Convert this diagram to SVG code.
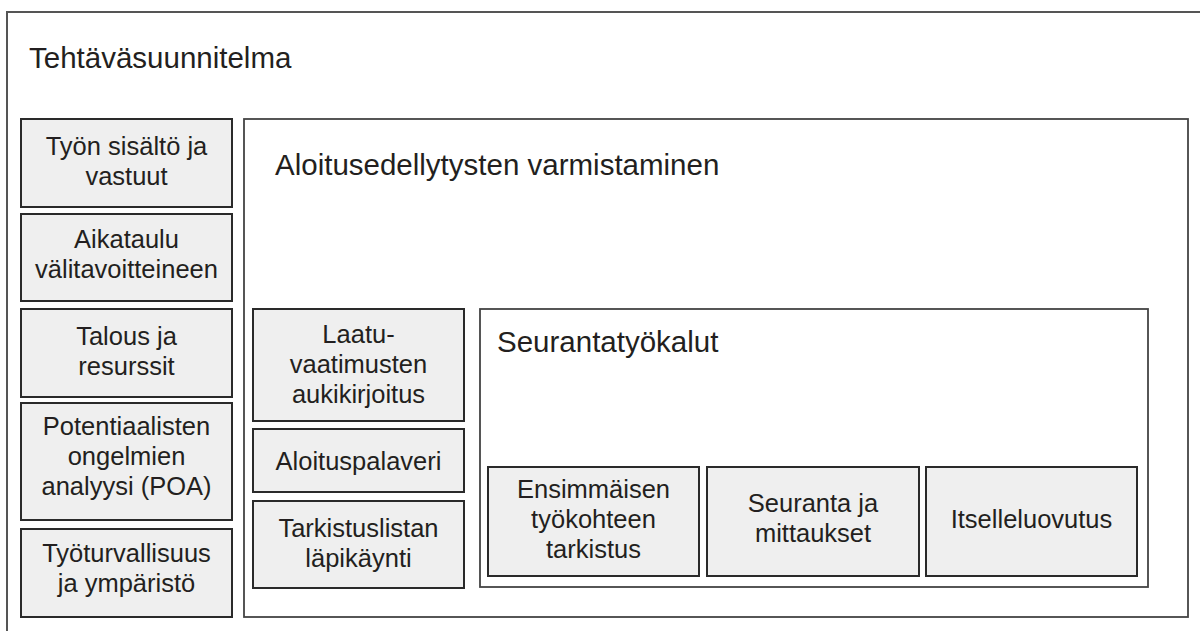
<svg xmlns="http://www.w3.org/2000/svg" width="1200" height="631" viewBox="0 0 1200 631">
<style>
  .frame{fill:none;stroke:#555;stroke-width:2}
  .cont{fill:#fff;stroke:#444;stroke-width:1.8}
  .box{fill:#efefef;stroke:#2a2a2a;stroke-width:2}
  text{font-family:"Liberation Sans",Arial,sans-serif;fill:#231f20}
  .t{font-size:29.5px}
  .b{font-size:25.5px;text-anchor:middle}
</style>
<rect width="1200" height="631" fill="#fff"/>
<g id="outer">
  <path class="frame" d="M7,631 V12 H1200"/>
  <text class="t" x="29" y="68">Tehtäväsuunnitelma</text>
</g>
<g id="aloitus">
  <rect class="cont" x="244" y="119" width="944" height="498"/>
  <text class="t" x="275" y="175">Aloitusedellytysten varmistaminen</text>
</g>
<g id="seuranta-tyokalut">
  <rect class="cont" x="480" y="309" width="668" height="278"/>
  <text class="t" x="497" y="352">Seurantatyökalut</text>
</g>
<g id="tyon-sisalto">
  <rect class="box" x="21" y="119" width="211" height="88"/>
  <text class="b" x="126.5" y="155">Työn sisältö ja</text>
  <text class="b" x="126.5" y="185">vastuut</text>
</g>
<g id="aikataulu">
  <rect class="box" x="21" y="214" width="211" height="87"/>
  <text class="b" x="126.5" y="248">Aikataulu</text>
  <text class="b" x="126.5" y="278">välitavoitteineen</text>
</g>
<g id="talous">
  <rect class="box" x="21" y="309" width="211" height="88"/>
  <text class="b" x="126.5" y="345">Talous ja</text>
  <text class="b" x="126.5" y="375">resurssit</text>
</g>
<g id="poa">
  <rect class="box" x="21" y="403" width="211" height="117"/>
  <text class="b" x="126.5" y="435">Potentiaalisten</text>
  <text class="b" x="126.5" y="465">ongelmien</text>
  <text class="b" x="126.5" y="495">analyysi (POA)</text>
</g>
<g id="tyoturvallisuus">
  <rect class="box" x="21" y="529" width="211" height="88"/>
  <text class="b" x="126.5" y="562">Työturvallisuus</text>
  <text class="b" x="126.5" y="592">ja ympäristö</text>
</g>
<g id="laatu">
  <rect class="box" x="253" y="309" width="211" height="112"/>
  <text class="b" x="358.5" y="343">Laatu-</text>
  <text class="b" x="358.5" y="373">vaatimusten</text>
  <text class="b" x="358.5" y="403">aukikirjoitus</text>
</g>
<g id="aloituspalaveri">
  <rect class="box" x="253" y="429" width="211" height="63"/>
  <text class="b" x="358.5" y="470">Aloituspalaveri</text>
</g>
<g id="tarkistuslista">
  <rect class="box" x="253" y="501" width="211" height="87"/>
  <text class="b" x="358.5" y="537">Tarkistuslistan</text>
  <text class="b" x="358.5" y="567">läpikäynti</text>
</g>
<g id="ensimmainen">
  <rect class="box" x="488" y="467" width="211" height="109"/>
  <text class="b" x="593.5" y="498">Ensimmäisen</text>
  <text class="b" x="593.5" y="528">työkohteen</text>
  <text class="b" x="593.5" y="558">tarkistus</text>
</g>
<g id="seuranta-mittaukset">
  <rect class="box" x="707" y="467" width="212" height="109"/>
  <text class="b" x="813" y="512">Seuranta ja</text>
  <text class="b" x="813" y="542">mittaukset</text>
</g>
<g id="itselleluovutus">
  <rect class="box" x="926" y="467" width="211" height="109"/>
  <text class="b" x="1031.5" y="528">Itselleluovutus</text>
</g>
<g id="connectors"></g>
</svg>
